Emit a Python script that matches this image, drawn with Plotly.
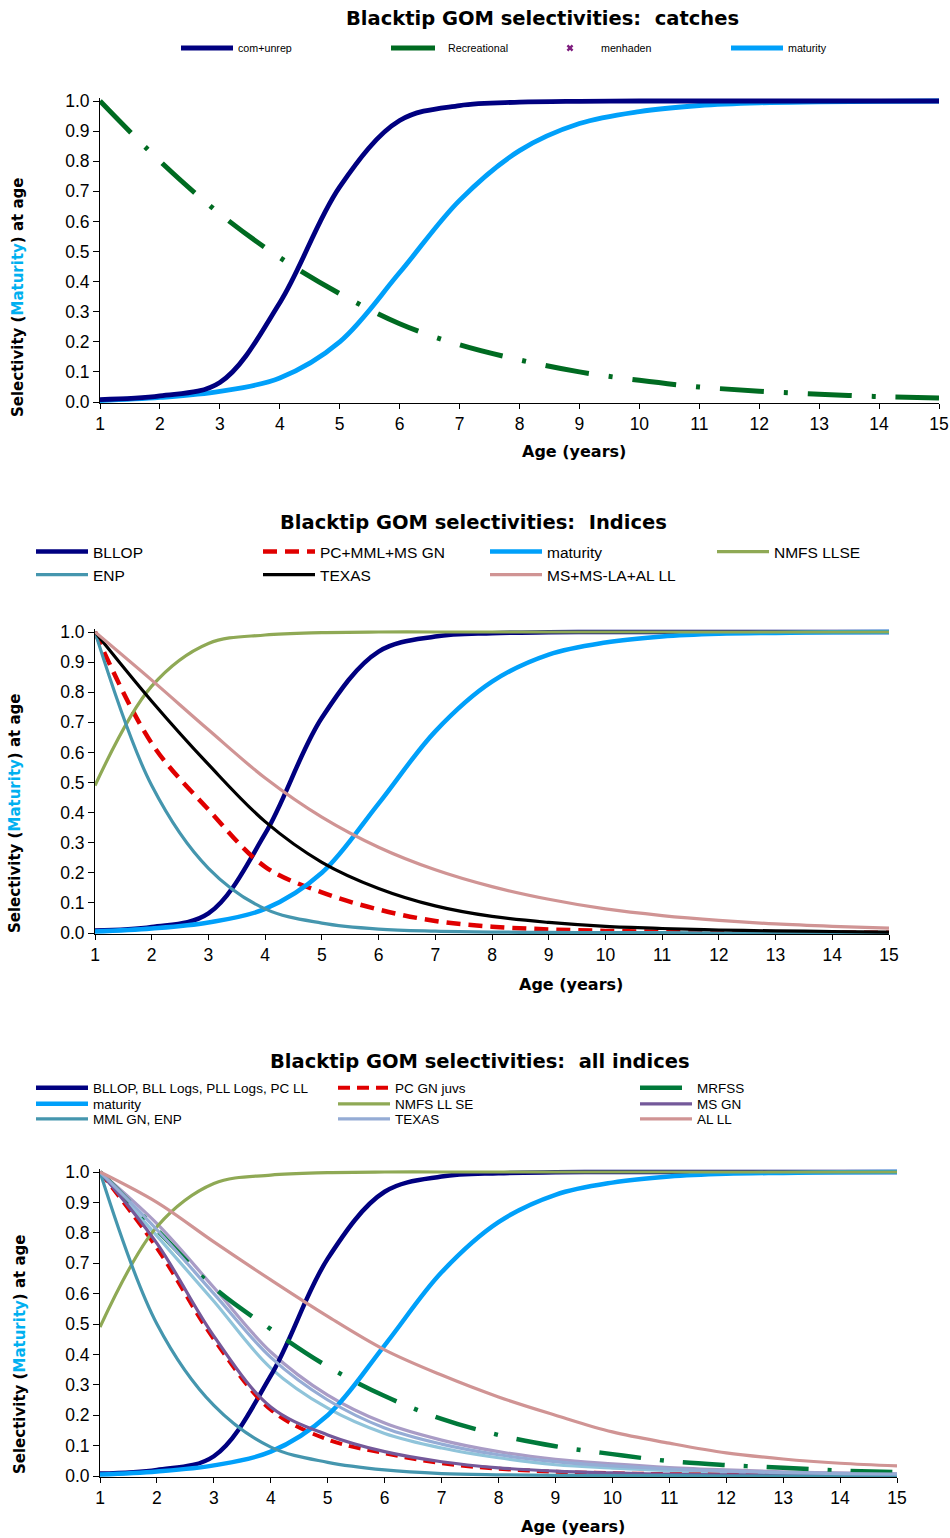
import plotly.graph_objects as go

W, H = 950, 1538
FONT = "Arial, Liberation Sans, sans-serif"
BFONT = "DejaVu Sans, Arial, sans-serif"
OFF = 0  # page body margin is removed below

# ---------------- data ----------------
ages = list(range(1, 16))
x_tick_vals = list(range(1, 16))
y_tick_vals = [i / 10 for i in range(11)]

# chart 1: catches
com_unrep = [0.008, 0.02, 0.065, 0.33, 0.715, 0.935, 0.985, 0.996, 0.999, 1.0, 1.0, 1.0, 1.0, 1.0, 1.0]
recreational = [1.0, 0.8, 0.625, 0.48, 0.36, 0.26, 0.19, 0.14, 0.1, 0.072, 0.05, 0.036, 0.026, 0.018, 0.013]
maturity = [0.005, 0.015, 0.035, 0.08, 0.2, 0.43, 0.67, 0.835, 0.925, 0.965, 0.985, 0.994, 0.997, 0.999, 1.0]

# chart 2: indices
bllop = com_unrep
pc_mml_ms_gn = [1.0, 0.63, 0.41, 0.22, 0.135, 0.078, 0.04, 0.021, 0.012, 0.007, 0.004, 0.003, 0.002, 0.001, 0.001]
nmfs_llse = [0.49, 0.82, 0.962, 0.99, 0.998, 1.0, 1.0, 1.0, 1.0, 1.0, 1.0, 1.0, 1.0, 1.0, 1.0]
enp = [1.0, 0.49, 0.215, 0.08, 0.033, 0.013, 0.006, 0.003, 0.002, 0.001, 0.001, 0.0, 0.0, 0.0, 0.0]
texas = [1.0, 0.77, 0.56, 0.37, 0.235, 0.148, 0.09, 0.055, 0.035, 0.022, 0.015, 0.01, 0.007, 0.005, 0.003]
ms_msla_al_ll = [1.0, 0.84, 0.675, 0.515, 0.385, 0.285, 0.21, 0.154, 0.112, 0.08, 0.058, 0.042, 0.03, 0.022, 0.016]

# chart 3: all indices
bllop_logs = com_unrep
pc_gn_juvs = [1.0, 0.75, 0.45, 0.218, 0.12, 0.075, 0.042, 0.024, 0.014, 0.009, 0.006, 0.004, 0.003, 0.002, 0.001]
mrfss = [1.0, 0.81, 0.62, 0.483, 0.36, 0.263, 0.188, 0.135, 0.098, 0.072, 0.049, 0.036, 0.027, 0.018, 0.013]
nmfs_ll_se = nmfs_llse
ms_gn = [1.0, 0.765, 0.46, 0.227, 0.135, 0.08, 0.047, 0.027, 0.016, 0.01, 0.006, 0.004, 0.003, 0.002, 0.001]
mml_gn_enp = [1.0, 0.5, 0.232, 0.095, 0.045, 0.02, 0.008, 0.004, 0.002, 0.001, 0.001, 0.0, 0.0, 0.0, 0.0]
texas_all = [1.0, 0.81, 0.6, 0.39, 0.25, 0.158, 0.105, 0.07, 0.047, 0.033, 0.023, 0.016, 0.011, 0.008, 0.006]
al_ll = [1.0, 0.9, 0.77, 0.645, 0.525, 0.415, 0.332, 0.26, 0.2, 0.145, 0.108, 0.076, 0.056, 0.042, 0.033]
other_lavender = [1.0, 0.83, 0.62, 0.408, 0.266, 0.174, 0.118, 0.08, 0.055, 0.04, 0.028, 0.02, 0.014, 0.01, 0.007]
other_cyan = [1.0, 0.79, 0.575, 0.355, 0.223, 0.14, 0.092, 0.06, 0.037, 0.026, 0.018, 0.012, 0.009, 0.006, 0.004]

# ---------------- styling ----------------
NAVY = "#000080"
MAT = "#00A0FA"
GREEN1 = "#006B21"
GREEN3 = "#00793A"
OLIVE = "#8FA955"
TEAL = "#4596AE"
RED = "#E00000"
PINK = "#D09494"
PURPLE = "#74599A"
LAV = "#A99CC6"
TEXBLUE = "#95ACD5"
CYAN = "#90C4DA"
DASHDOT = "44px,20px,4px,20px"

# pixel geometry (screen px) of each panel: (x at age 1, x at age 15, y at 0.0, y at 1.0)
panels = [(100, 939, 402, 101), (95, 889, 933, 632), (100, 897, 1476, 1172)]
Y_LO, Y_HI = -0.004, 1.01


def px(x):
    return (x - OFF) / W


def py(y):
    return 1 - (y - OFF) / H


fig = go.Figure()


def add(i, y, name, color, width, dash=None, legend=None, show=True):
    sfx = "" if i == 1 else str(i)
    fig.add_trace(go.Scatter(
        x=ages, y=y, name=name, mode="lines",
        line=dict(color=color, width=width, dash=dash, shape="spline", smoothing=1.0),
        xaxis="x" + sfx, yaxis="y" + sfx,
        legend=legend, showlegend=show, hoverinfo="skip"))


# panel 1
add(1, recreational, "Recreational", GREEN1, 5, DASHDOT, "legend2")
add(1, maturity, "maturity", MAT, 4.8, None, "legend4")
add(1, com_unrep, "com+unrep", NAVY, 4.8, None, "legend")
fig.add_trace(go.Scatter(x=[None], y=[None], name="menhaden", mode="markers",
                         marker=dict(symbol="x", size=6, color="#7F1F7F"),
                         xaxis="x", yaxis="y", legend="legend3", hoverinfo="skip"))

# panel 2
add(2, bllop, "BLLOP", NAVY, 4.5, None, "legend5")
add(2, pc_mml_ms_gn, "PC+MML+MS GN", RED, 4.5, "14px,8px", "legend5")
add(2, maturity, "maturity", MAT, 4.5, None, "legend5")
add(2, nmfs_llse, "NMFS LLSE", OLIVE, 3.2, None, "legend5")
add(2, enp, "ENP", TEAL, 3.2, None, "legend6")
add(2, texas, "TEXAS", "#000000", 3.2, None, "legend6")
add(2, ms_msla_al_ll, "MS+MS-LA+AL LL", PINK, 3.2, None, "legend6")

# panel 3
add(3, other_lavender, "other", LAV, 3.2, None, None, False)
add(3, other_cyan, "other", CYAN, 3.2, None, None, False)
add(3, bllop_logs, "BLLOP, BLL Logs, PLL Logs, PC LL", NAVY, 4.5, None, "legend7")
add(3, pc_gn_juvs, "PC GN juvs", RED, 4, "12px,7px", "legend7")
add(3, mrfss, "MRFSS", GREEN3, 4.5, "42px,19px,4px,19px", "legend7")
add(3, maturity, "maturity", MAT, 4.5, None, "legend8")
add(3, nmfs_ll_se, "NMFS LL SE", OLIVE, 3.2, None, "legend8")
add(3, ms_gn, "MS GN", PURPLE, 3.2, None, "legend8")
add(3, mml_gn_enp, "MML GN, ENP", TEAL, 3.2, None, "legend9")
add(3, texas_all, "TEXAS", TEXBLUE, 3.2, None, "legend9")
add(3, al_ll, "AL LL", PINK, 3.2, None, "legend9")

layout = dict(
    width=W, height=H, margin=dict(l=0, r=0, t=0, b=0, pad=0, autoexpand=False),
    paper_bgcolor="white", plot_bgcolor="white",
    font=dict(family=FONT, color="black"),
)


def ydom(y0, y1):
    ppu = y0 - y1
    bottom = y0 - Y_LO * ppu
    top = y0 - Y_HI * ppu
    return [py(bottom), py(top)]


for k, (xa, xb, y0, y1) in enumerate(panels, start=1):
    sfx = "" if k == 1 else str(k)
    layout["xaxis" + sfx] = dict(
        domain=[px(xa), px(xb)], range=[1, 15], anchor="y" + sfx,
        tickmode="array", tickvals=x_tick_vals, ticks="outside", ticklen=5,
        tickcolor="black", showline=True, linecolor="black", linewidth=1,
        showgrid=False, zeroline=False, automargin=False,
        tickfont=dict(size=17.5, family=FONT))
    layout["yaxis" + sfx] = dict(
        domain=ydom(y0, y1), range=[Y_LO, Y_HI], anchor="x" + sfx,
        tickmode="array", tickvals=y_tick_vals, tickformat=".1f",
        ticks="outside", ticklen=6, tickcolor="black",
        showline=True, linecolor="black", linewidth=1,
        showgrid=False, zeroline=False, automargin=False,
        tickfont=dict(size=17.5, family=FONT))


def leg(line_start, ypix, size, entrywidth=None, off=7):
    d = dict(x=px(line_start - off), y=py(ypix), xanchor="left", yanchor="middle",
             orientation="h", font=dict(family=FONT, size=size, color="black"),
             bgcolor="rgba(0,0,0,0)", itemwidth=52, borderwidth=0,
             itemclick=False, itemdoubleclick=False)
    if entrywidth:
        d.update(entrywidth=entrywidth, entrywidthmode="pixels")
    return d


layout["legend"] = leg(183, 48, 10.7)
layout["legend2"] = leg(393, 48, 10.7)
layout["legend3"] = leg(578, 48, 10.7, off=39)
layout["legend4"] = leg(733, 48, 10.7)
layout["legend5"] = leg(38, 552, 15.5, 160)
layout["legend6"] = leg(38, 575, 15.5, 160)
layout["legend7"] = leg(38, 1088, 13.5, 235)
layout["legend8"] = leg(38, 1104, 13.5, 235)
layout["legend9"] = leg(38, 1119, 13.5, 235)

fig.update_layout(**layout)

titles = [("Blacktip GOM selectivities:\u00a0 catches", 542, 18),
          ("Blacktip GOM selectivities:\u00a0 Indices", 473, 522),
          ("Blacktip GOM selectivities:\u00a0 all indices", 480, 1061)]
for t, xp, yp in titles:
    fig.add_annotation(text="<b>" + t + "</b>", x=px(xp), y=py(yp), xref="paper", yref="paper",
                       showarrow=False, xanchor="center", yanchor="middle",
                       font=dict(size=19.5, family=BFONT, color="black"))

for xp, yp in [(574, 451), (571, 984), (573, 1526)]:
    fig.add_annotation(text="<b>Age (years)</b>", x=px(xp), y=py(yp), xref="paper", yref="paper",
                       showarrow=False, xanchor="center", yanchor="middle",
                       font=dict(size=16, family=BFONT, color="black"))

ytitle = "<b>Selectivity (<span style='color:#00B0F0'>Maturity</span>) at age</b>"
for xp, yp in [(18, 298), (15, 814), (20, 1355)]:
    fig.add_annotation(text=ytitle, x=px(xp), y=py(yp), xref="paper", yref="paper",
                       showarrow=False, xanchor="center", yanchor="middle", textangle=-90,
                       font=dict(size=15, family=BFONT, color="black"))

fig.write_html(
    "out.html",
    config={"displayModeBar": False, "staticPlot": False},
    post_script="document.body.style.margin='0';document.body.style.overflow='hidden';",
)
